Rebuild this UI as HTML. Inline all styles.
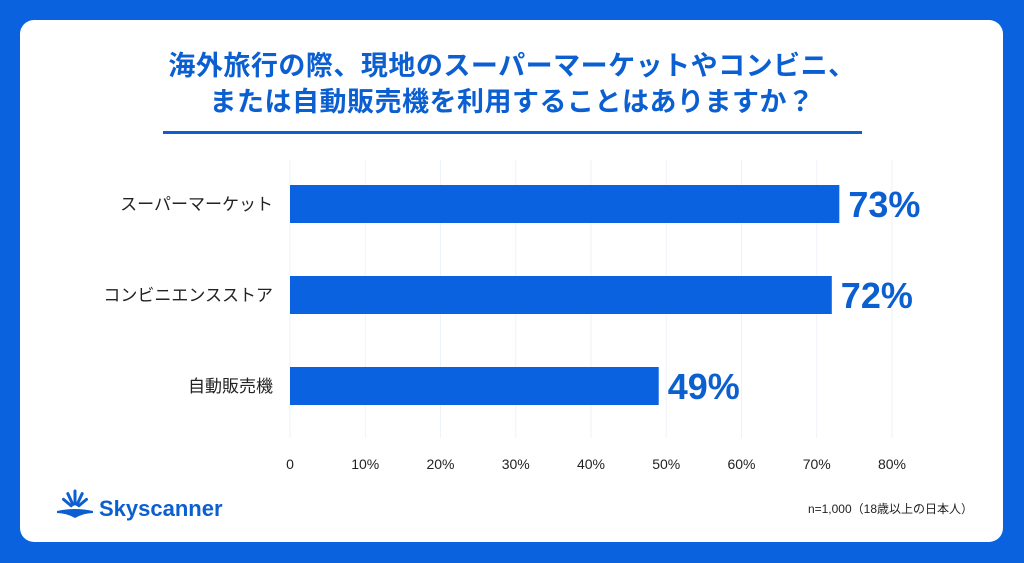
<!DOCTYPE html>
<html><head><meta charset="utf-8">
<style>
html,body{margin:0;padding:0;width:1024px;height:563px;overflow:hidden;background:#0b62df;}
#card{position:absolute;left:20px;top:20px;width:983px;height:522px;background:#fff;border-radius:14px;}
.t{font-family:"Liberation Sans","Noto Sans CJK JP",sans-serif;}
#title{position:absolute;left:0;top:48px;width:1024px;text-align:center;color:#0b5fd0;font-weight:bold;font-size:27px;line-height:36px;letter-spacing:0.5px;}
#uline{position:absolute;left:163px;top:131px;width:699px;height:3px;background:#0b5fd0;}
</style></head><body>
<div id="card"></div>
<div id="title" class="t">海外旅行の際、現地のスーパーマーケットやコンビニ、<br>または自動販売機を利用することはありますか？</div>
<div id="uline"></div>
<svg id="chart" width="1024" height="563" style="position:absolute;left:0;top:0"></svg>
<script>
const categories=["スーパーマーケット","コンビニエンスストア","自動販売機"];
const values=[73,72,49];
const valueLabels=["73%","72%","49%"];
const ticks=[0,10,20,30,40,50,60,70,80];
const tickLabels=["0","10%","20%","30%","40%","50%","60%","70%","80%"];
const svg=document.getElementById('chart');
const NS="http://www.w3.org/2000/svg";
const x0=290,x1=892,vmax=80;
const xs=v=>x0+(v/vmax)*(x1-x0);
const ys=i=>185+i*91;
const bh=38;
const F='"Liberation Sans","Noto Sans CJK JP",sans-serif';
function mk(t,a){const e=document.createElementNS(NS,t);for(const k in a)e.setAttribute(k,a[k]);svg.appendChild(e);return e;}
ticks.forEach((t,i)=>{
  const g=mk('line',{x1:xs(t),x2:xs(t),y1:160,y2:438,stroke:'#eef3fa','stroke-width':1});
  
  
  const l=mk('text',{x:xs(t),y:469,'text-anchor':'middle','font-size':14,fill:'#222','font-family':F});
  l.textContent=tickLabels[i];
  
  
});
categories.forEach((c,i)=>{
  const y=ys(i);
  const r=mk('rect',{x:x0,y:y,width:xs(values[i])-x0,height:bh,fill:'#0b62e0'});
  
  
  const l=mk('text',{x:273,y:y+bh/2+6,'text-anchor':'end','font-size':17,fill:'#222','font-family':F});
  l.textContent=c;
  
  
  const v=mk('text',{x:xs(values[i])+9,y:y+bh/2+13,'font-size':36,'font-weight':'bold',fill:'#0b5fd0','font-family':F});
  v.textContent=valueLabels[i];
  
  
});
// logo
const lg=mk('g',{});


[[-50,10],[-25,12],[0,13],[25,12],[50,10]].forEach(([a,len])=>{
  const rad=(a-90)*Math.PI/180,cx=75,cy=509;
  const e=document.createElementNS(NS,'line');
  e.setAttribute('x1',cx+Math.cos(rad)*5);e.setAttribute('y1',cy+Math.sin(rad)*5);
  e.setAttribute('x2',cx+Math.cos(rad)*(5+len));e.setAttribute('y2',cy+Math.sin(rad)*(5+len));
  e.setAttribute('stroke','#0b5fd0');e.setAttribute('stroke-width',3);e.setAttribute('stroke-linecap','round');
  lg.appendChild(e);
});
const base=document.createElementNS(NS,'path');
base.setAttribute('d','M57 511 Q75 507 93 511 L93 513 Q84 513 75 518 Q66 513 57 513 Z');
base.setAttribute('fill','#0b5fd0');lg.appendChild(base);
const lt=mk('text',{x:99,y:516,'font-size':22,'font-weight':'bold',fill:'#0b5fd0','font-family':F});
lt.textContent='Skyscanner';


const n=mk('text',{x:973,y:513,'text-anchor':'end','font-size':12,fill:'#222','font-family':F});
n.textContent='n=1,000（18歳以上の日本人）';


</script>
</body></html>
